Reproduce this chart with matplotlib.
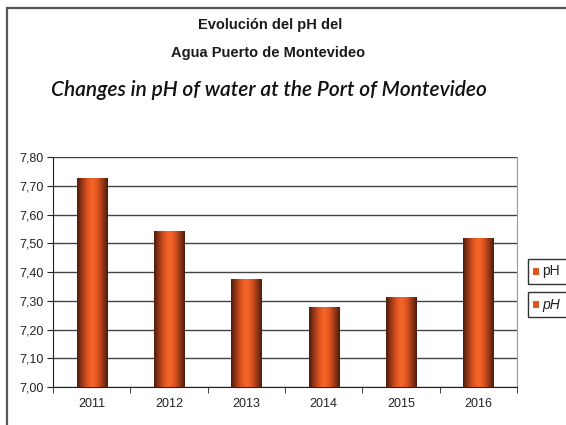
import numpy as np
import matplotlib
matplotlib.use("Agg")
import matplotlib.pyplot as plt
from matplotlib.patches import Rectangle
from matplotlib.colors import LinearSegmentedColormap

years = ["2011", "2012", "2013", "2014", "2015", "2016"]
ph_values = [7.725, 7.54, 7.375, 7.275, 7.31, 7.515]
y_ticks = [7.00, 7.10, 7.20, 7.30, 7.40, 7.50, 7.60, 7.70, 7.80]
y_tick_labels = ["7,00", "7,10", "7,20", "7,30", "7,40", "7,50", "7,60", "7,70", "7,80"]
legend_labels = ["pH", "pH"]

W, H = 566, 425
fig = plt.figure(figsize=(W / 100, H / 100), dpi=100)
fig.patch.set_facecolor("white")

# outer frame
fig.add_artist(Rectangle((7 / W, -0.1), 1.2, 1 - 8 / H + 0.1, transform=fig.transFigure,
                         fill=False, edgecolor="#555555", linewidth=1.6))

fig.text(270 / W, 1 - 25 / H, "Evolución del pH del", ha="center", va="center",
         fontsize=10.5, fontweight="bold", family="Liberation Sans", color="#1a1a1a")
fig.text(268 / W, 1 - 53 / H, "Agua Puerto de Montevideo", ha="center", va="center",
         fontsize=10.5, fontweight="bold", family="Liberation Sans", color="#1a1a1a")
fig.text(269 / W, 1 - 90 / H, "Changes in pH of water at the Port of Montevideo",
         ha="center", va="center", fontsize=15, style="italic", fontweight="semibold",
         family="Lato", color="#111111")

ax = fig.add_axes([53 / W, 1 - 387 / H, (517 - 53) / W, (387 - 157) / H])
x = np.arange(len(years))

# cylinder-like shading across each bar
shade = LinearSegmentedColormap.from_list(
    "barshade", ["#4e1c0c", "#9a3a18", "#e0541e", "#f4672a", "#e0541e", "#9a3a18", "#4e1c0c"])
grad = np.linspace(0, 1, 64).reshape(1, -1)
bar_w = 0.39
bars = ax.bar(x, [v - 7.0 for v in ph_values], bottom=7.0, width=bar_w,
              color="none", edgecolor="none", zorder=3)
for b in bars:
    x0, y0 = b.get_x(), b.get_y()
    ax.imshow(grad, cmap=shade, aspect="auto", zorder=3,
              extent=[x0, x0 + b.get_width(), y0, y0 + b.get_height()])
ax.set_xlim(-0.5, len(years) - 0.5)
ax.set_ylim(7.0, 7.8)

ax.set_yticks(y_ticks)
ax.set_yticklabels(y_tick_labels)
ax.yaxis.grid(True, color="#444444", linewidth=1.0, zorder=1)
ax.set_axisbelow(True)

ax.set_xticks(x)
ax.set_xticklabels(years)
ax.set_xticks(np.arange(len(years) + 1) - 0.5, minor=True)
ax.tick_params(axis="x", which="major", length=0, pad=8)
ax.tick_params(axis="x", which="minor", length=4, direction="out", color="#222222")
ax.tick_params(axis="y", length=4, direction="out", color="#222222", pad=3)
for lab in ax.get_xticklabels() + ax.get_yticklabels():
    lab.set_family("Liberation Sans")
    lab.set_fontsize(9)
    lab.set_color("#222222")

ax.spines["left"].set_color("#222222")
ax.spines["bottom"].set_color("#222222")
ax.spines["top"].set_visible(False)
ax.spines["right"].set_color("#999999")

# legend: two separately boxed entries
entry_tops = [259, 292]
for lab, top, italic in zip(legend_labels, entry_tops, [False, True]):
    fig.add_artist(Rectangle((528 / W, 1 - (top + 25) / H), 60 / W, 25 / H,
                             transform=fig.transFigure, fill=False,
                             edgecolor="#333333", linewidth=1.0))
    fig.add_artist(Rectangle((533 / W, 1 - (top + 16) / H), 6 / W, 7 / H,
                             transform=fig.transFigure, facecolor="#e0541e",
                             edgecolor="none"))
    fig.text(542 / W, 1 - (top + 12.5) / H, lab, ha="left", va="center", fontsize=10,
             style="italic" if italic else "normal", family="Liberation Sans",
             color="#222222")

fig.savefig("out.png", dpi=100, facecolor="white")
